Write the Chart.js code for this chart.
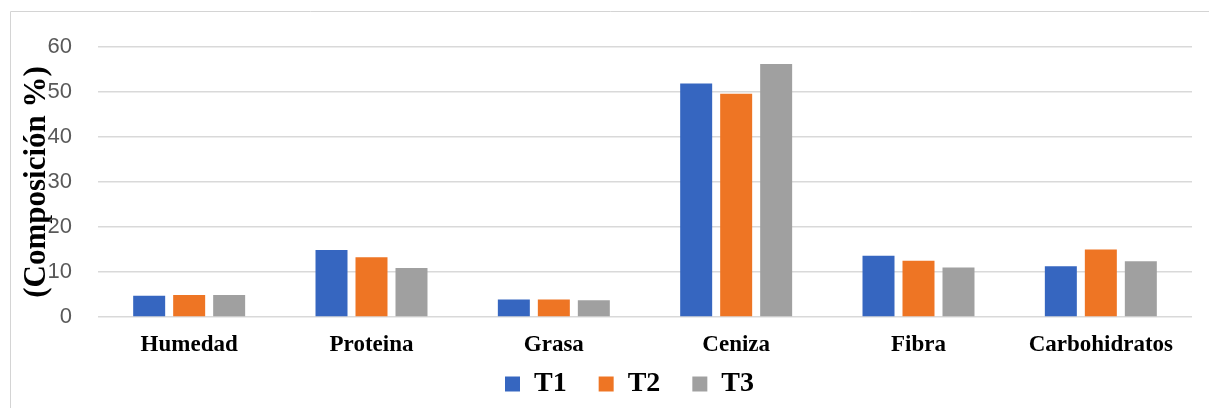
<!DOCTYPE html>
<html>
<head>
<meta charset="utf-8">
<style>
  html, body { margin: 0; padding: 0; background: #ffffff; }
  #wrap { position: relative; width: 1209px; height: 408px; }
</style>
<script src="https://cdn.jsdelivr.net/npm/chart.js@4/dist/chart.umd.min.js"></script>
</head>
<body>
<div id="wrap"><canvas id="chart" width="1209" height="408"></canvas></div>
<script>
// Composition of the samples per treatment (%)
const categories = ['Humedad', 'Proteina', 'Grasa', 'Ceniza', 'Fibra', 'Carbohidratos'];
const seriesNames = ['T1', 'T2', 'T3'];
const t1 = [4.7, 14.9, 3.9, 51.9, 13.6, 11.3];
const t2 = [4.9, 13.3, 3.9, 49.6, 12.5, 15.0];
const t3 = [4.9, 10.9, 3.7, 56.2, 11.0, 12.4];
const yTicks = [0, 10, 20, 30, 40, 50, 60];

const colors = ['#3666C0', '#EE7524', '#A0A0A0'];
const serif = "'Liberation Serif', 'Times New Roman', serif";

// Light frame around the chart
const framePlugin = {
  id: 'frame',
  beforeDraw(chart) {
    const ctx = chart.ctx;
    ctx.save();
    ctx.strokeStyle = '#d4d4d4';
    ctx.lineWidth = 1;
    ctx.beginPath();
    ctx.moveTo(10.5, chart.height + 2);
    ctx.lineTo(10.5, 11.5);
    ctx.lineTo(chart.width + 2, 11.5);
    ctx.stroke();
    ctx.restore();
  }
};

// Centre the legend row under the plot rather than the whole canvas
const legendShift = {
  id: 'legendShift',
  afterLayout(chart) {
    if (chart.legend) chart.legend.left += 21;
  }
};

new Chart(document.getElementById('chart'), {
  type: 'bar',
  data: {
    labels: categories,
    datasets: [t1, t2, t3].map((values, i) => ({
      label: seriesNames[i],
      data: values,
      backgroundColor: colors[i],
      borderWidth: 0,
      categoryPercentage: 0.658,
      barPercentage: 0.8
    }))
  },
  options: {
    responsive: false,
    animation: false,
    devicePixelRatio: 1,
    layout: { padding: { left: 46, right: 17, top: 47, bottom: 0 } },
    plugins: {
      tooltip: { enabled: false },
      legend: {
        position: 'bottom',
        labels: {
          boxWidth: 15,
          boxHeight: 15,
          padding: 32,
          color: '#000000',
          font: { family: serif, size: 28, weight: 'bold' }
        }
      }
    },
    scales: {
      x: {
        grid: { display: false },
        border: { display: false },
        ticks: {
          mirror: true,
          padding: -42,
          color: '#000000',
          font: { family: serif, size: 23, weight: 'bold' },
          maxRotation: 0,
          autoSkip: false
        },
        afterFit(scale) { scale.height = 21; }
      },
      y: {
        min: 0,
        max: 60,
        afterBuildTicks(scale) { scale.ticks = yTicks.map(v => ({ value: v })); },
        grid: { color: '#d9d9d9', lineWidth: 1.5, drawTicks: false },
        border: { display: false },
        ticks: {
          padding: 26,
          color: '#595959',
          font: { family: "'Liberation Sans', Arial, sans-serif", size: 22 }
        },
        title: {
          display: true,
          text: '(Composición %)',
          color: '#000000',
          font: { family: serif, size: 31, weight: 'bold' },
          padding: { top: -28, bottom: 0 }
        },
        afterFit(scale) { scale.width = 52; }
      }
    }
  },
  plugins: [framePlugin, legendShift]
});
</script>
</body>
</html>
